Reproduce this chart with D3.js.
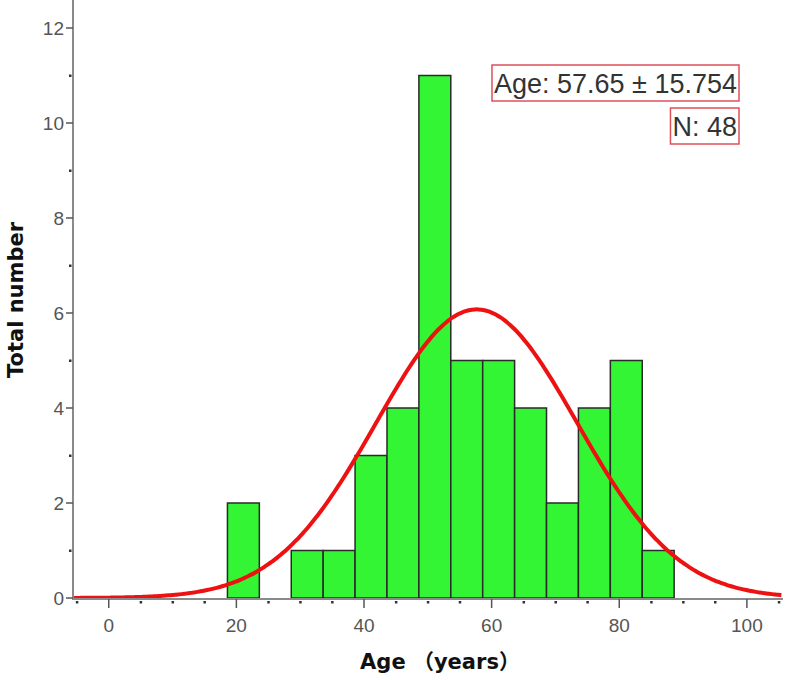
<!DOCTYPE html>
<html>
<head>
<meta charset="utf-8">
<script src="https://cdn.jsdelivr.net/npm/d3@7"></script>
<style>
  body { margin: 0; background: #fff; }
  svg { display: block; }
</style>
</head>
<body>
<div id="chart"></div>
<script>
// histogram bins (lower edge, width 5 years) and counts
const binStarts = [18.6, 23.6, 28.6, 33.6, 38.6, 43.6, 48.6, 53.6, 58.6, 63.6, 68.6, 73.6, 78.6, 83.6];
const counts = [2, 0, 1, 1, 3, 4, 11, 5, 5, 4, 2, 4, 5, 1];
const binWidth = 5;
const xTicks = [0, 20, 40, 60, 80, 100];
const yTicks = [0, 2, 4, 6, 8, 10, 12];
const meanAge = 57.65;
const sdAge = 15.754;
const totalN = 48;

const width = 787, height = 680;

const x = d3.scaleLinear().domain([-5.6, 105.5]).range([73, 782]);
const y = d3.scaleLinear().domain([0, 12]).range([598, 28]);

const svg = d3.select('#chart').append('svg')
    .attr('width', width)
    .attr('height', height);

// bars
svg.selectAll('.bar')
    .data(binStarts.map((s, i) => ({ s, c: counts[i] })).filter(d => d.c > 0))
    .enter().append('rect')
    .attr('class', 'bar')
    .attr('x', d => x(d.s))
    .attr('y', d => y(d.c))
    .attr('width', d => x(d.s + binWidth) - x(d.s))
    .attr('height', d => y(0) - y(d.c))
    .attr('fill', '#33f533')
    .attr('stroke', '#2a2a2a')
    .attr('stroke-width', 1.5);

// normal curve scaled to counts
const scaleK = totalN * binWidth / (sdAge * Math.sqrt(2 * Math.PI));
const curvePts = d3.range(-5.6, 105.6, 0.5).map(v => [v, scaleK * Math.exp(-0.5 * Math.pow((v - meanAge) / sdAge, 2))]);
svg.append('path')
    .datum(curvePts)
    .attr('fill', 'none')
    .attr('stroke', '#ee1111')
    .attr('stroke-width', 4)
    .attr('d', d3.line().x(d => x(d[0])).y(d => y(d[1])).curve(d3.curveBasis));

// axes
const axisColor = '#8a8a8a';
svg.append('line')
    .attr('x1', 73).attr('x2', 73).attr('y1', 0).attr('y2', 599)
    .attr('stroke', axisColor).attr('stroke-width', 2);
svg.append('line')
    .attr('x1', 72).attr('x2', 783).attr('y1', 599).attr('y2', 599)
    .attr('stroke', axisColor).attr('stroke-width', 2);

// y ticks
svg.selectAll('.ytick')
    .data(yTicks).enter().append('line')
    .attr('x1', 66).attr('x2', 73)
    .attr('y1', d => y(d)).attr('y2', d => y(d))
    .attr('stroke', '#555').attr('stroke-width', 1.5);
svg.selectAll('.yminor')
    .data(d3.range(1, 12, 2)).enter().append('rect')
    .attr('x', 69).attr('y', d => y(d) - 1)
    .attr('width', 2.5).attr('height', 2.5)
    .attr('fill', '#333');
svg.selectAll('.ylab')
    .data(yTicks).enter().append('text')
    .attr('x', 64).attr('y', d => y(d))
    .attr('dy', '0.36em')
    .attr('text-anchor', 'end')
    .attr('font-family', 'Liberation Sans, Arial, sans-serif')
    .attr('font-size', 19)
    .attr('fill', '#555')
    .text(d => d);

// x ticks
svg.selectAll('.xtick')
    .data(xTicks).enter().append('line')
    .attr('x1', d => x(d)).attr('x2', d => x(d))
    .attr('y1', 599).attr('y2', 608)
    .attr('stroke', '#555').attr('stroke-width', 1.5);
svg.selectAll('.xminor')
    .data(d3.range(-5, 106, 5).filter(v => v % 20 !== 0)).enter().append('rect')
    .attr('x', d => x(d) - 1).attr('y', 601)
    .attr('width', 2.5).attr('height', 2.5)
    .attr('fill', '#333');
svg.selectAll('.xlab')
    .data(xTicks).enter().append('text')
    .attr('x', d => x(d)).attr('y', 632)
    .attr('text-anchor', 'middle')
    .attr('font-family', 'Liberation Sans, Arial, sans-serif')
    .attr('font-size', 19)
    .attr('fill', '#555')
    .text(d => d);

// axis titles
svg.append('text')
    .attr('x', 440).attr('y', 669)
    .attr('text-anchor', 'middle')
    .attr('font-family', 'DejaVu Sans, Noto Sans CJK SC, sans-serif')
    .attr('font-weight', 'bold')
    .attr('font-size', 21)
    .attr('fill', '#111')
    .text('Age （years）');
svg.append('text')
    .attr('transform', 'translate(23,300) rotate(-90)')
    .attr('text-anchor', 'middle')
    .attr('font-family', 'DejaVu Sans, sans-serif')
    .attr('font-weight', 'bold')
    .attr('font-size', 21)
    .attr('fill', '#111')
    .text('Total number');

// stats boxes
const statLines = [`Age: ${meanAge} ± ${sdAge}`, `N: ${totalN}`];
const boxRight = 739;
statLines.forEach((t, i) => {
    const ty = 93 + i * 43;
    const txt = svg.append('text')
        .attr('x', boxRight - 2).attr('y', ty)
        .attr('text-anchor', 'end')
        .attr('font-family', 'Liberation Sans, Arial, sans-serif')
        .attr('font-size', 27)
        .attr('fill', '#333')
        .text(t);
    const bb = txt.node().getBBox();
    svg.insert('rect', () => txt.node())
        .attr('x', bb.x - 2).attr('y', ty - 28)
        .attr('width', boxRight - bb.x + 2).attr('height', 36)
        .attr('fill', '#fff')
        .attr('stroke', '#e0505a')
        .attr('stroke-width', 1.5);
});
</script>
</body>
</html>
